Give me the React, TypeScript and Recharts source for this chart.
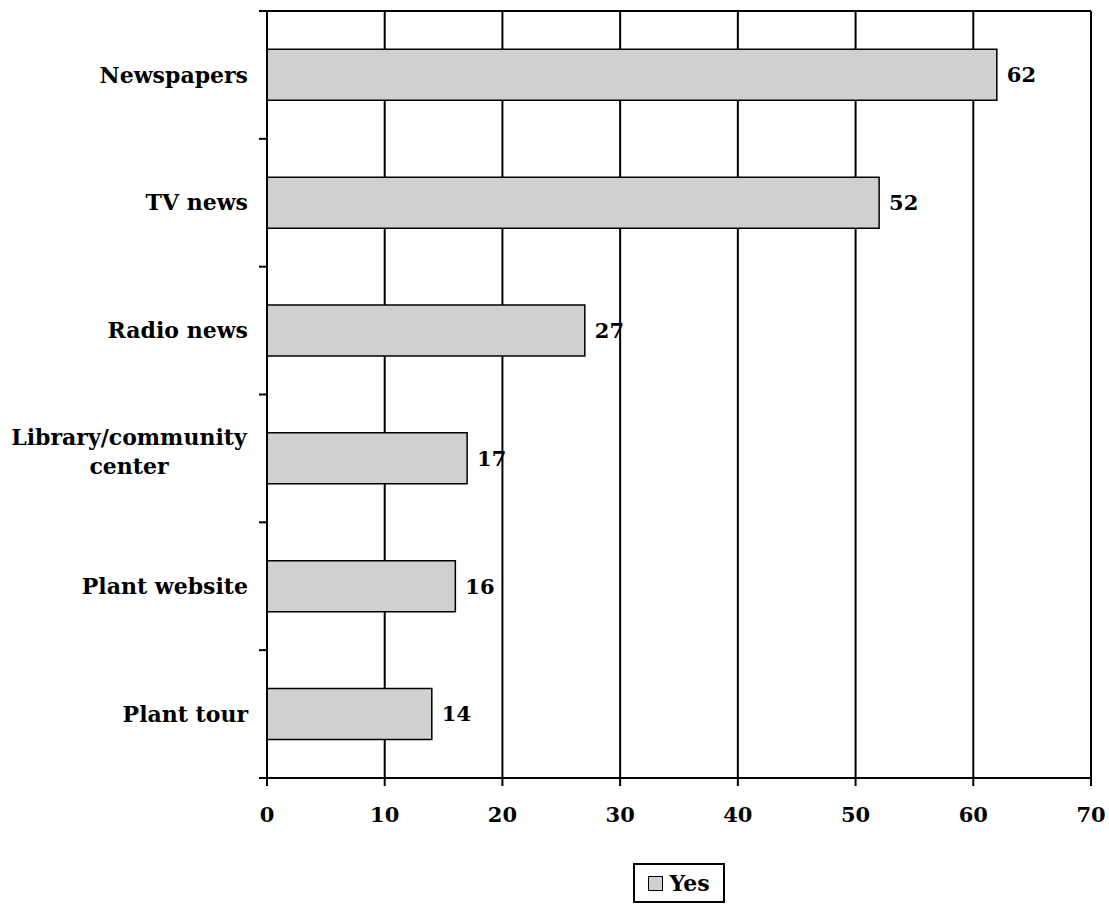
import React from 'react';
import { BarChart, Bar, XAxis, YAxis, CartesianGrid, Legend, LabelList } from 'recharts';

const categories = ['Newspapers', 'TV news', 'Radio news', 'Library/community\ncenter', 'Plant website', 'Plant tour'];
const yesValues = [62, 52, 27, 17, 16, 14];
const xTicks = [0, 10, 20, 30, 40, 50, 60, 70];

const data = categories.map((name, i) => ({ name, yes: yesValues[i] }));

const W = 1109;
const H = 906;
const M = { top: 11, right: 18, left: 0, bottom: 0 };
const Y_AXIS_W = 267;
const X_AXIS_H = 80;
const LEGEND_H = 48;
const LABEL_GAP = 19;
const TICK_LEN = 8;
const FONT = '"DejaVu Serif", "Liberation Serif", serif';
const BAR_FILL = '#d0d0d0';

const plotH = H - M.top - M.bottom - X_AXIS_H - LEGEND_H;
const band = plotH / categories.length;

const CategoryTick = (props: any) => {
  const { x, y, payload, index } = props;
  const lines = String(payload.value).split('\n');
  const axisX = x + LABEL_GAP;
  const lineH = 29;
  const startY = y - ((lines.length - 1) * lineH) / 2 - (lines.length > 1 ? 7 : 0);
  // multi-line labels are centred as a block, right edge on the label gap
  const blockHalf = lines.length > 1 ? Math.max(...lines.map((l) => l.length)) * 7.0 : 0;
  return (
    <g>
      <line x1={axisX - TICK_LEN} x2={axisX} y1={y - band / 2} y2={y - band / 2} stroke="#000" strokeWidth={2} />
      {index === categories.length - 1 && (
        <line x1={axisX - TICK_LEN} x2={axisX} y1={y + band / 2} y2={y + band / 2} stroke="#000" strokeWidth={2} />
      )}
      {lines.map((l, i) => (
        <text
          key={i}
          x={lines.length > 1 ? x - blockHalf : x}
          y={startY + i * lineH}
          dy="0.35em"
          textAnchor={lines.length > 1 ? 'middle' : 'end'}
          fontFamily={FONT}
          fontWeight="bold"
          fontSize={22}
          fill="#000"
        >
          {l}
        </text>
      ))}
    </g>
  );
};

const LegendBox = () => (
  <div
    style={{
      height: LEGEND_H,
      width: W,
      boxSizing: 'border-box',
      paddingLeft: Y_AXIS_W,
      paddingRight: M.right,
      display: 'flex',
      justifyContent: 'center',
      alignItems: 'flex-start',
    }}
  >
    <div
      style={{
        marginTop: 5,
        height: 40,
        width: 92,
        boxSizing: 'border-box',
        border: '2px solid #000',
        display: 'flex',
        alignItems: 'center',
        justifyContent: 'center',
        gap: 6,
        fontFamily: FONT,
        fontWeight: 'bold',
        fontSize: 22,
        color: '#000',
      }}
    >
      <span style={{ width: 15, height: 15, boxSizing: 'border-box', background: BAR_FILL, border: '1.5px solid #000', display: 'inline-block' }} />
      <span>Yes</span>
    </div>
  </div>
);

export default function App() {
  return (
    <div style={{ position: 'absolute', top: 0, left: 0, width: W, height: H, background: '#fff' }}>
      <BarChart width={W} height={H} data={data} layout="vertical" margin={M} barCategoryGap="30%">
        <CartesianGrid horizontal={false} stroke="#000" strokeWidth={2} />
        {/* top border of the plot */}
        <CartesianGrid vertical={false} horizontalPoints={[M.top]} stroke="#000" strokeWidth={2} />
        <XAxis
          type="number"
          domain={[0, 70]}
          ticks={xTicks}
          height={X_AXIS_H}
          stroke="#000"
          strokeWidth={2}
          tickSize={TICK_LEN}
          tickMargin={21}
          tick={{ fill: '#000', fontFamily: FONT, fontWeight: 'bold', fontSize: 21 }}
        />
        <YAxis
          type="category"
          dataKey="name"
          width={Y_AXIS_W}
          stroke="#000"
          strokeWidth={2}
          tickLine={false}
          tickSize={0}
          tickMargin={LABEL_GAP}
          interval={0}
          tick={<CategoryTick />}
        />
        <Legend verticalAlign="bottom" height={LEGEND_H} content={<LegendBox />} wrapperStyle={{ left: 0, width: W }} />
        <Bar dataKey="yes" name="Yes" fill={BAR_FILL} stroke="#000" strokeWidth={1.5} isAnimationActive={false}>
          <LabelList
            dataKey="yes"
            position="right"
            offset={10}
            fill="#000"
            fontFamily={FONT}
            fontWeight="bold"
            fontSize={21}
          />
        </Bar>
      </BarChart>
    </div>
  );
}
